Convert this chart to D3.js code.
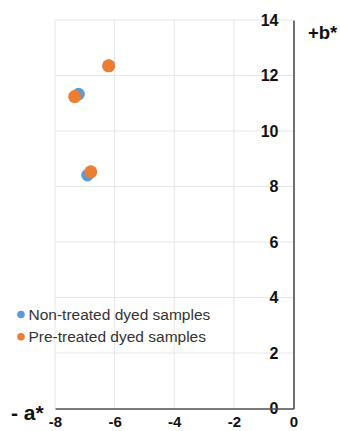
<!DOCTYPE html>
<html>
<head>
<meta charset="utf-8">
<script src="https://cdn.jsdelivr.net/npm/d3@7"></script>
<style>
  html, body { margin: 0; padding: 0; background: #fff; }
  svg { display: block; font-family: "Liberation Sans", Arial, sans-serif; }
</style>
</head>
<body>
<svg id="chart" width="340" height="431"></svg>
<script>
// a* (green–red) and b* (blue–yellow) coordinates of the dyed samples
const seriesNames = ["Non-treated dyed samples", "Pre-treated dyed samples"];
const nonTreatedA = [-6.2, -7.21, -6.91];
const nonTreatedB = [12.35, 11.33, 8.41];
const preTreatedA = [-6.2, -7.34, -6.8];
const preTreatedB = [12.35, 11.24, 8.53];
const xTicks = [-8, -6, -4, -2, 0];
const yTicks = [0, 2, 4, 6, 8, 10, 12, 14];
const colors = ["#5B9BD5", "#ED7D31"];

const svg = d3.select("#chart");
const x = d3.scaleLinear().domain([-8, 0]).range([55, 293.5]);
const y = d3.scaleLinear().domain([0, 14]).range([408.5, 20]);

// gridlines
const grid = svg.append("g").attr("stroke", "#e6e6e6").attr("stroke-width", 1);
grid.selectAll("line.v").data(xTicks.filter(d => d !== 0)).join("line")
  .attr("x1", d => x(d)).attr("x2", d => x(d))
  .attr("y1", y(14)).attr("y2", y(0));
grid.selectAll("line.h").data(yTicks.filter(d => d !== 0)).join("line")
  .attr("x1", x(-8)).attr("x2", x(0))
  .attr("y1", d => y(d)).attr("y2", d => y(d));

// axes crossing at the origin (right/bottom of the plot)
const plainNum = d => String(d);
const yAxis = svg.append("g")
  .attr("transform", `translate(${x(0)},0)`)
  .call(d3.axisLeft(y).tickValues(yTicks).tickSize(0).tickSizeOuter(0).tickPadding(15).tickFormat(plainNum));
const xAxis = svg.append("g")
  .attr("transform", `translate(0,${y(0)})`)
  .call(d3.axisBottom(x).tickValues(xTicks).tickSize(0).tickSizeOuter(0).tickPadding(8).tickFormat(plainNum));

[yAxis, xAxis].forEach(g => {
  g.select(".domain").attr("stroke", "#4d4d4d").attr("stroke-width", 1.6);
  g.selectAll("text")
    .attr("fill", "#111")
    .style("font-size", "16px")
    .style("font-weight", "bold")
    .style("font-family", "'Liberation Sans', Arial, sans-serif");
});
xAxis.selectAll("text").style("font-size", "15px");

// axis names
svg.append("text").attr("x", 308).attr("y", 38.5)
  .style("font-size", "18.5px").style("font-weight", "bold").attr("fill", "#111")
  .text("+b*");
svg.append("text").attr("x", 11).attr("y", 420)
  .style("font-size", "21px").style("font-weight", "bold").attr("fill", "#111")
  .text("- a*");

// data points
const series = [
  nonTreatedA.map((a, i) => ({ a, b: nonTreatedB[i], s: 0 })),
  preTreatedA.map((a, i) => ({ a, b: preTreatedB[i], s: 1 }))
];
series.forEach(pts => {
  svg.append("g").selectAll("circle").data(pts).join("circle")
    .attr("cx", d => x(d.a)).attr("cy", d => y(d.b))
    .attr("r", d => d.s === 0 ? 6.3 : 6.5)
    .attr("fill", d => colors[d.s]);
});

// legend
const legend = svg.append("g");
seriesNames.forEach((name, i) => {
  const ly = 314.5 + i * 22.3;
  legend.append("circle").attr("cx", 21).attr("cy", ly).attr("r", 3.8).attr("fill", colors[i]);
  legend.append("text").attr("x", 28.5).attr("y", ly).attr("dy", "0.36em")
    .style("font-size", "15.5px").attr("fill", "#333")
    .text(name);
});
</script>
</body>
</html>
